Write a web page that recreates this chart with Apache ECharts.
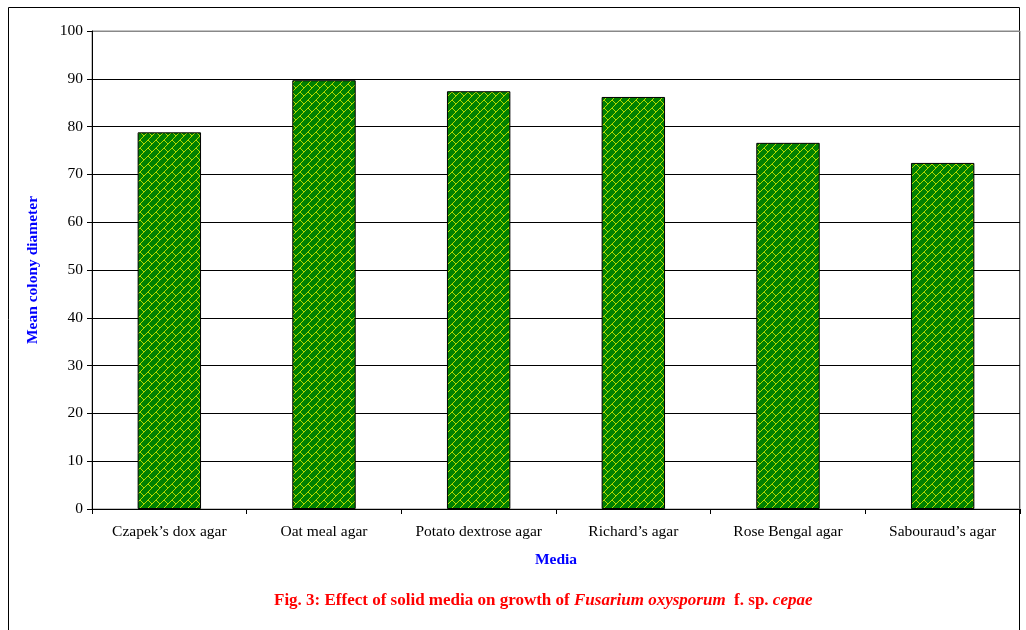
<!DOCTYPE html>
<html>
<head>
<meta charset="utf-8">
<script src="https://cdn.jsdelivr.net/npm/echarts@6/dist/echarts.min.js"></script>
<style>
  html, body { margin: 0; padding: 0; background: #fff; }
  #chart { width: 1026px; height: 630px; }
</style>
</head>
<body>
<div id="chart"></div>
<script>
// Culture media and mean colony diameter measured on each
const media = ["Czapek\u2019s dox agar", "Oat meal agar", "Potato dextrose agar", "Richard\u2019s agar", "Rose Bengal agar", "Sabouraud\u2019s agar"];
const colonyDiameter = [78.8, 89.7, 87.4, 86.2, 76.6, 72.4];
const yTicks = [0, 10, 20, 30, 40, 50, 60, 70, 80, 90, 100];

// 8x8 diagonal-brick hatch (rising to the right): yellow-green mortar on green bricks
function brickPattern() {
  const rows = [0x01, 0x02, 0x04, 0x08, 0x18, 0x24, 0x42, 0x81];
  const c = document.createElement('canvas');
  c.width = 8; c.height = 8;
  const g = c.getContext('2d');
  g.fillStyle = '#008000';
  g.fillRect(0, 0, 8, 8);
  g.fillStyle = '#b4da00';
  rows.forEach((bits, y) => {
    for (let x = 0; x < 8; x++) {
      if (bits & (1 << x)) g.fillRect(7 - x, y, 1, 1);
    }
  });
  return c;
}

const serif = '"Liberation Serif", "DejaVu Serif", serif';
const chart = echarts.init(document.getElementById('chart'), null, { renderer: 'canvas' });

chart.setOption({
  animation: false,
  backgroundColor: '#ffffff',
  textStyle: { fontFamily: serif },
  graphic: [
    {
      type: 'rect',
      shape: { x: 8.5, y: 7.5, width: 1011, height: 640 },
      style: { fill: 'none', stroke: '#000', lineWidth: 1 },
      silent: true, z: -1
    },
    {
      type: 'text',
      left: 274,
      top: 592,
      style: {
        text: '{b|Fig. 3: Effect of solid media on growth of }{i|Fusarium oxysporum}{b|  f. sp. }{i|cepae}',
        rich: {
          b: { fontFamily: serif, fontSize: 17, fontWeight: 'bold', fill: '#ff0000' },
          i: { fontFamily: serif, fontSize: 17, fontWeight: 'bold', fontStyle: 'italic', fill: '#ff0000' }
        }
      }
    }
  ],
  grid: {
    left: 92, right: 6, top: 31, bottom: 121,
    show: true, borderColor: '#888', borderWidth: 1, backgroundColor: 'transparent'
  },
  xAxis: {
    type: 'category',
    data: media,
    name: 'Media',
    nameLocation: 'middle',
    nameGap: 43,
    nameTextStyle: { color: '#0000ff', fontWeight: 'bold', fontSize: 15.5, fontFamily: serif },
    axisLine: { lineStyle: { color: '#000', width: 1 } },
    axisTick: { show: true, alignWithLabel: false, length: 5, lineStyle: { color: '#000' } },
    axisLabel: { color: '#000', fontSize: 15.5, fontFamily: serif, margin: 15, interval: 0 }
  },
  yAxis: {
    type: 'value',
    min: yTicks[0],
    max: yTicks[yTicks.length - 1],
    interval: 10,
    name: 'Mean colony diameter',
    nameLocation: 'middle',
    nameGap: 51,
    nameTextStyle: { color: '#0000ff', fontWeight: 'bold', fontSize: 15.5, fontFamily: serif },
    axisLine: { show: true, lineStyle: { color: '#000', width: 1 } },
    axisTick: { show: true, length: 5, lineStyle: { color: '#000' } },
    axisLabel: { color: '#000', fontSize: 15.5, fontFamily: serif, margin: 9 },
    splitLine: {
      show: true,
      lineStyle: { color: ['#000', '#000', '#000', '#000', '#000', '#000', '#000', '#000', '#000', '#000', '#888'], width: 1 }
    }
  },
  series: [{
    type: 'bar',
    data: colonyDiameter,
    barWidth: '41%',
    itemStyle: {
      color: { image: brickPattern(), repeat: 'repeat' },
      borderColor: '#000',
      borderWidth: 1
    }
  }]
});
</script>
</body>
</html>
